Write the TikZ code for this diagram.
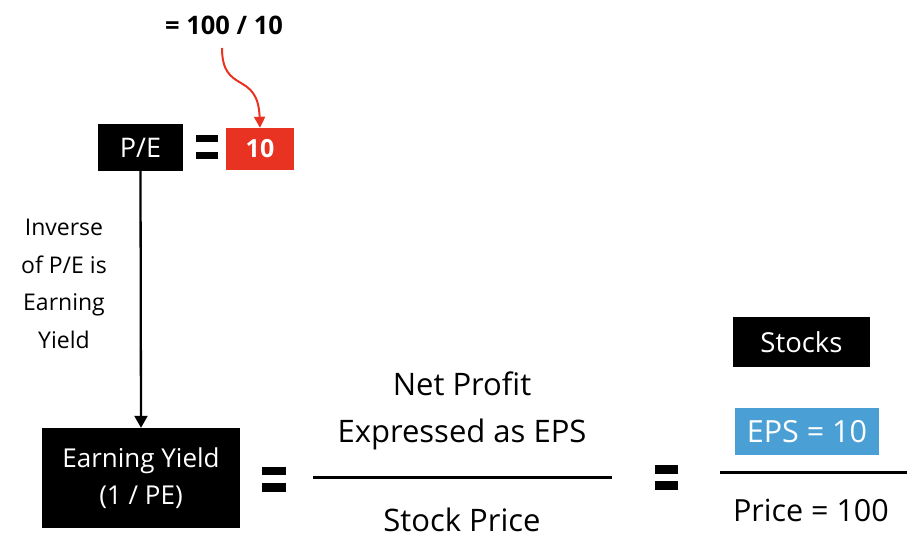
\documentclass[tikz,border=0pt]{standalone}
\usepackage{fontspec}
\setmainfont{Open Sans}
\usetikzlibrary{arrows.meta}
\definecolor{redbox}{HTML}{E83323}
\definecolor{bluebox}{HTML}{4A9FD4}
\tikzset{
  blackbox/.style={fill=black,text=white,inner sep=0pt,align=center},
  eqbar/.style={fill=black,draw=none},
  fracline/.style={line width=3pt},
}
\begin{document}
\begin{tikzpicture}[x=1pt,y=-1pt]
\useasboundingbox (0,0) rectangle (916,538);
% top label
\node[font=\fontsize{25.5}{28}\selectfont\bfseries] (calc) at (224,25) {= 100 / 10};
\coordinate (calcfoot) at (222,48);
% P/E box
\node[blackbox,minimum width=85pt,minimum height=47pt,font=\fontsize{27}{30}\selectfont] (pe) at (140.5,147.5) {P/E};
% equals
\fill[eqbar] (196,135) rectangle (218,142);
\fill[eqbar] (196,152) rectangle (218,159);
% red box
\node[fill=redbox,text=white,inner sep=0pt,minimum width=68pt,minimum height=42pt,font=\fontsize{25}{28}\selectfont\bfseries] (ten) at (260,149) {10};
\draw[redbox,line width=2pt,-{Triangle[length=11pt,width=11pt]}] (calcfoot) .. controls (222,95) and (258,70) .. (ten.north);
% earning yield box
\node[blackbox,minimum width=198pt,minimum height=100pt,font=\fontsize{26}{37}\selectfont] (ey) at (141,478) {Earning Yield\\(1 / PE)};
\draw[line width=2.3pt,-{Triangle[length=12pt,width=13pt]}] (pe.south) -- (ey.north);
\node[align=center,font=\fontsize{23}{37.7}\selectfont] (inv) at (64,284) {Inverse\\of P/E is\\Earning\\Yield};
% equals 2
\fill[eqbar] (262,467) rectangle (286,475);
\fill[eqbar] (262,483) rectangle (286,492);
% fraction 1
\coordinate (f1l) at (313,477);
\coordinate (f1r) at (612,477);
\draw[fracline] (f1l) -- (f1r);
\node[align=center,font=\fontsize{31}{47}\selectfont] (num1) at (462,411) {Net Profit\\Expressed as EPS};
\node[font=\fontsize{31}{34}\selectfont] (den1) at (462,520) {Stock Price};
% equals 3
\fill[eqbar] (655,465) rectangle (678,474);
\fill[eqbar] (655,481) rectangle (678,490);
% fraction 2
\coordinate (f2l) at (720,472);
\coordinate (f2r) at (907,472);
\draw[fracline] (f2l) -- (f2r);
\node[blackbox,minimum width=137pt,minimum height=50pt,font=\fontsize{27.5}{30}\selectfont] (stocks) at (801.5,342) {Stocks};
\node[fill=bluebox,text=white,inner sep=0pt,minimum width=144pt,minimum height=47pt,font=\fontsize{30.5}{32}\selectfont] (eps) at (807,431.5) {EPS = 10};
\node[font=\fontsize{30.5}{32}\selectfont] (price) at (811,510) {Price = 100};
\end{tikzpicture}
\end{document}
